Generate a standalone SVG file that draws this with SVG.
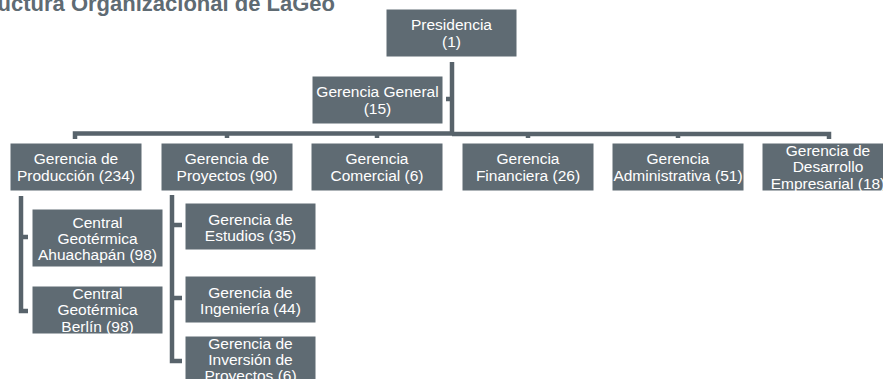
<svg xmlns="http://www.w3.org/2000/svg" width="883" height="379" viewBox="0 0 883 379">
<style>
.box{fill:#5f6b73;stroke:#ffffff;stroke-width:1}
.t{font-family:"Liberation Sans",Arial,sans-serif;font-size:15.5px;fill:#ffffff;text-anchor:middle}
.ln{fill:none;stroke:#58636b;stroke-width:4.5}
.title{font-family:"Liberation Sans",Arial,sans-serif;font-size:22px;font-weight:bold;fill:#5f6b73;text-anchor:end}
</style>
<rect width="883" height="379" fill="#ffffff"/>
<text class="title" x="335" y="11">Estructura Organizacional de LaGeo</text>
<g id="connectors">
<path class="ln" d="M452,62 V134"/>
<path class="ln" d="M75,139 V133.5 H452 M452,134 H829 V139"/>
<path class="ln" d="M227,134 V138 M377,134 V138 M528,134 V138 M678,134 V138"/>
<path class="ln" d="M446,99 H452" stroke-width="3"/>
<path class="ln" d="M21,196 V311 H28 M21,237 H28"/>
<path class="ln" d="M172,195 V361 H182 M172,225 H182 M172,298 H182"/>
</g>
<g id="presidencia"><rect class="box" x="386" y="9" width="131" height="48"/><text class="t" x="451.5" y="30.2">Presidencia</text><text class="t" x="451.5" y="46.7">(1)</text></g>
<g id="gerencia-general"><rect class="box" x="312" y="76" width="131" height="48"/><text class="t" x="377.5" y="97.2">Gerencia General</text><text class="t" x="377.5" y="113.7">(15)</text></g>
<g id="produccion"><rect class="box" x="10" y="143" width="132" height="48"/><text class="t" x="76" y="164">Gerencia de</text><text class="t" x="76" y="180.5">Producción (234)</text></g>
<g id="proyectos"><rect class="box" x="161" y="143" width="132" height="48"/><text class="t" x="227" y="164">Gerencia de</text><text class="t" x="227" y="180.5">Proyectos (90)</text></g>
<g id="comercial"><rect class="box" x="311" y="143" width="132" height="48"/><text class="t" x="377" y="164">Gerencia</text><text class="t" x="377" y="180.5">Comercial (6)</text></g>
<g id="financiera"><rect class="box" x="462" y="143" width="132" height="48"/><text class="t" x="528" y="164">Gerencia</text><text class="t" x="528" y="180.5">Financiera (26)</text></g>
<g id="administrativa"><rect class="box" x="612" y="143" width="132" height="48"/><text class="t" x="678" y="164">Gerencia</text><text class="t" x="678" y="180.5">Administrativa (51)</text></g>
<g id="desarrollo"><rect class="box" x="762" y="143" width="132" height="48"/><text class="t" x="828" y="156">Gerencia de</text><text class="t" x="828" y="172.4">Desarrollo</text><text class="t" x="828" y="188.8">Empresarial (18)</text></g>
<g id="ahuachapan"><rect class="box" x="32" y="209" width="131" height="58"/><text class="t" x="97.5" y="227.5">Central</text><text class="t" x="97.5" y="243.5">Geotérmica</text><text class="t" x="97.5" y="260">Ahuachapán (98)</text></g>
<g id="berlin"><rect class="box" x="32" y="286" width="131" height="48"/><text class="t" x="97.5" y="298.5">Central</text><text class="t" x="97.5" y="315">Geotérmica</text><text class="t" x="97.5" y="331.5">Berlín (98)</text></g>
<g id="estudios"><rect class="box" x="185" y="203" width="131" height="47"/><text class="t" x="250.5" y="224.5">Gerencia de</text><text class="t" x="250.5" y="241">Estudios (35)</text></g>
<g id="ingenieria"><rect class="box" x="185" y="276" width="131" height="47"/><text class="t" x="250.5" y="297.5">Gerencia de</text><text class="t" x="250.5" y="314">Ingeniería (44)</text></g>
<g id="inversion"><rect class="box" x="185" y="336" width="131" height="48"/><text class="t" x="250.5" y="348.5">Gerencia de</text><text class="t" x="250.5" y="364.5">Inversión de</text><text class="t" x="250.5" y="380.5">Proyectos (6)</text></g>
</svg>
